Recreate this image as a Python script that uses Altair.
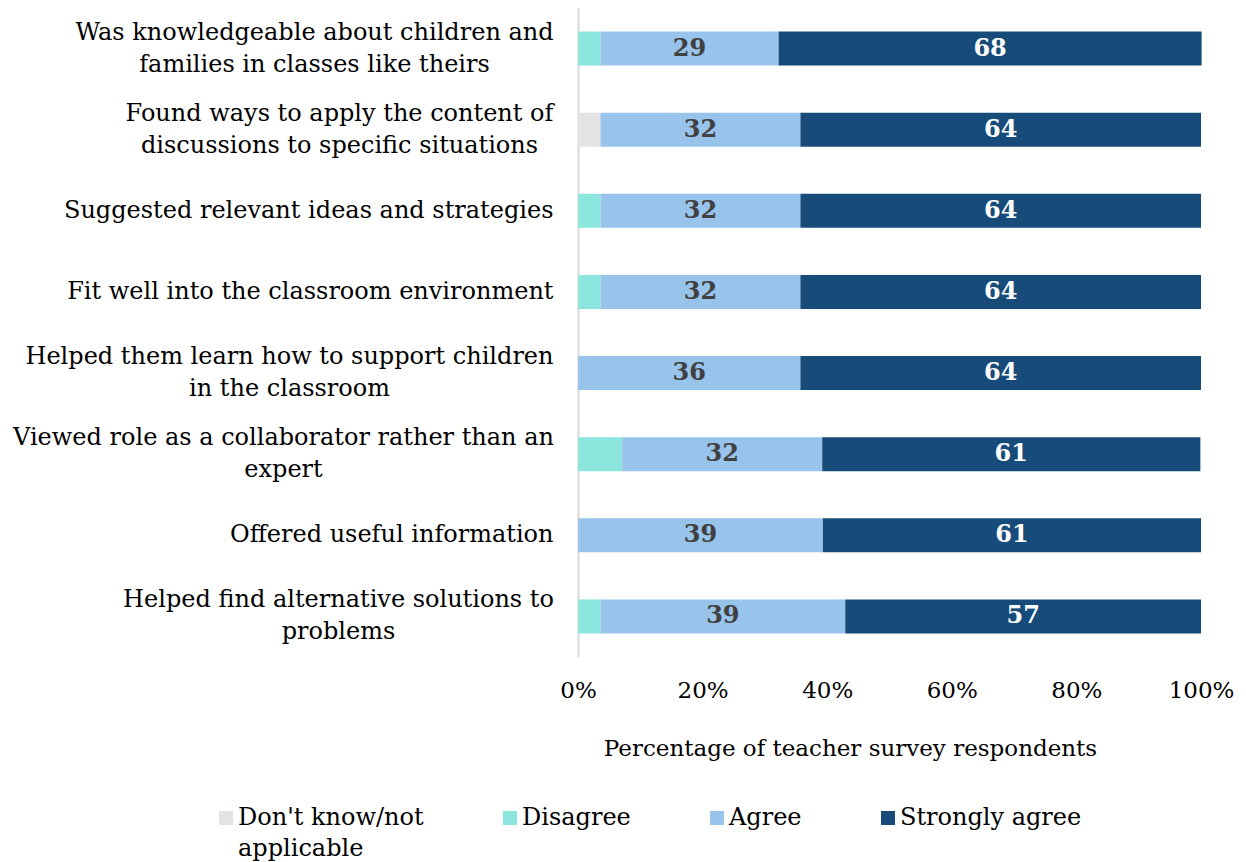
import altair as alt
import pandas as pd

categories = [
    "Was knowledgeable about children and\nfamilies in classes like theirs",
    "Found ways to apply the content of\ndiscussions to specific situations",
    "Suggested relevant ideas and strategies",
    "Fit well into the classroom environment",
    "Helped them learn how to support children\nin the classroom",
    "Viewed role as a collaborator rather than an\nexpert",
    "Offered useful information",
    "Helped find alternative solutions to\nproblems",
]
responses = ["Don't know/not applicable", "Disagree", "Agree", "Strongly agree"]
dont_know = [0, 3.6, 0, 0, 0, 0, 0, 0]
disagree = [3.6, 0, 3.6, 3.6, 0, 7.1, 0, 3.6]
agree = [28.6, 32.1, 32.1, 32.1, 35.7, 32.1, 39.3, 39.3]
strongly_agree = [67.9, 64.3, 64.3, 64.3, 64.3, 60.7, 60.7, 57.1]
colors = ["#e3e3e3", "#8de6dd", "#98c3eb", "#174c7a"]
x_ticks = [0, 20, 40, 60, 80, 100]

FONT = "DejaVu Serif"

# style: wrapped labels are centred lines in a right-aligned block;
# half-width of each block's first line (rendered, px) sets the centre.
LABEL_GAP = 25
wrap_half_width = {
    "Was knowledgeable": 239,
    "Found ways": 214,
    "Helped them learn": 264,
    "Viewed role": 270,
    "Helped find": 215,
}

rows = []
for i, cat in enumerate(categories):
    start = 0.0
    for resp, series in zip(responses, [dont_know, disagree, agree, strongly_agree]):
        v = series[i]
        rows.append({
            "category": cat,
            "response": resp,
            "value": v,
            "start": start,
            "end": start + v,
            "mid": start + v / 2,
            "label": str(int(round(v))),
        })
        start += v
df = pd.DataFrame(rows)

wrapped_test = "indexof(datum.value, '\\n') >= 0"
pad_conditions = [
    {"test": f"indexof(datum.value, '{k}') === 0", "value": LABEL_GAP + w}
    for k, w in wrap_half_width.items()
]

y_enc = alt.Y(
    "category:N",
    sort=categories,
    scale=alt.Scale(paddingInner=0.58, paddingOuter=0.29),
    axis=alt.Axis(
        title=None,
        labelExpr="split(datum.label, '\\n')",
        labelFont=FONT,
        labelFontSize=24,
        labelColor="#000000",
        labelLineHeight=32,
        labelPadding={"condition": pad_conditions, "value": LABEL_GAP},
        labelAlign={"condition": {"test": wrapped_test, "value": "center"}, "value": "right"},
        labelLimit=600,
        labelOffset={"condition": {"test": wrapped_test, "value": -16}, "value": 0},
        ticks=False,
        domainColor="#d9d9d9",
        domainWidth=2,
        grid=False,
    ),
)

bars = alt.Chart(df).mark_bar().encode(
    x=alt.X(
        "start:Q",
        scale=alt.Scale(domain=[0, 100], nice=False),
        axis=alt.Axis(
            values=x_ticks,
            labelExpr="datum.value + '%'",
            labelFlush=False,
            grid=False,
            domain=False,
            ticks=False,
            labelFont=FONT,
            labelFontSize=23,
            labelColor="#000000",
            labelBaseline="middle",
            labelPadding=33,
            title="Percentage of teacher survey respondents",
            titleFont=FONT,
            titleFontSize=23,
            titleFontWeight="normal",
            titleColor="#000000",
            titleBaseline="middle",
            titleAlign="center",
            titleX=272,
            titleY=91,
        ),
    ),
    x2="end:Q",
    y=y_enc,
    color=alt.Color(
        "response:N",
        sort=responses,
        scale=alt.Scale(domain=responses, range=colors),
        legend=alt.Legend(
            title=None,
            orient="none",
            legendX=-364,
            legendY=798,
            direction="horizontal",
            columns=4,
            columnPadding=74,
            symbolType="square",
            symbolSize=196,
            symbolStrokeWidth=0,
            labelFont=FONT,
            labelFontSize=24,
            labelColor="#000000",
            labelOffset=0,
            labelLimit=400,
            labelExpr="datum.label === \"Don't know/not applicable\" ? [\"Don't know/not\", 'applicable'] : [datum.label, '']",
        ),
    ),
)

texts = alt.Chart(df).transform_filter(
    "datum.response === 'Agree' || datum.response === 'Strongly agree'"
).mark_text(font=FONT, fontSize=24, fontWeight="bold", align="center", baseline="middle").encode(
    x=alt.X("mid:Q"),
    y=alt.Y("category:N", sort=categories),
    text="label:N",
    color=alt.condition("datum.response === 'Agree'", alt.value("#404040"), alt.value("#ffffff")),
)

chart = alt.layer(bars, texts).properties(
    width=623,
    height=649,
    background="#ffffff",
    autosize=alt.AutoSizeParams(type="none"),
    padding={"left": 570, "top": 0, "right": 37, "bottom": 205},
).configure(font=FONT, style={"guide-label": {"lineHeight": 31}}).configure_view(stroke=None)

chart.save("out.html", embed_options={"renderer": "svg", "actions": False})
